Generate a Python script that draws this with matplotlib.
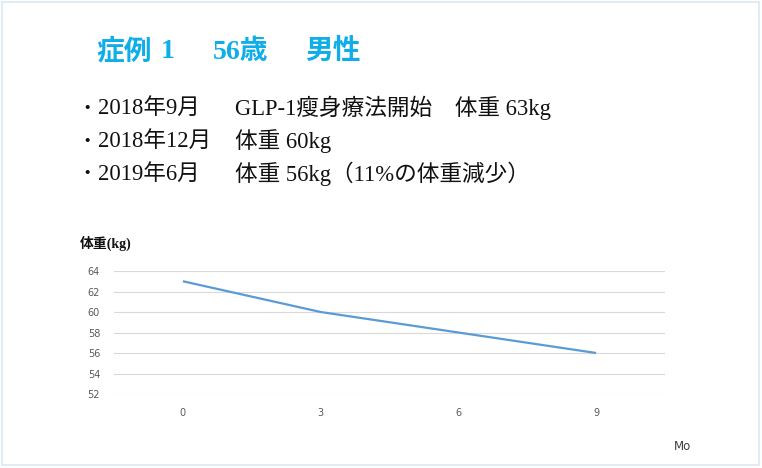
import matplotlib
matplotlib.use('Agg')
import matplotlib.pyplot as plt
from matplotlib.patches import Rectangle

plt.rcParams['font.family'] = ['Liberation Serif', 'Noto Sans CJK JP', 'DejaVu Sans']

# data
months = [0, 3, 6, 9]
weight = [63, 60, 58, 56]
yticks = [52, 54, 56, 58, 60, 62, 64]

title_parts = ["症例", "1", "56歳", "男性"]
title_x = [96, 161, 213, 305]
bullet_dates = ["2018年9月", "2018年12月", "2019年6月"]
bullet_notes = ["GLP-1瘦身療法開始　体重 63kg", "体重 60kg", "体重 56kg（11%の体重減少）"]
bullet_y = [108, 141, 174]

W, H = 762, 468
fig = plt.figure(figsize=(W / 100, H / 100), dpi=100)

def fx(px):
    return px / W

def fy(py):
    return 1 - py / H

# slide border
fig.patches.append(Rectangle((fx(2), fy(465)), fx(757), fy(2) - fy(465),
                             transform=fig.transFigure, fill=False,
                             edgecolor='#dbe8f5', linewidth=1.2))

# title
for part, x in zip(title_parts, title_x):
    fig.text(fx(x), fy(52), part, fontsize=20, fontweight='bold', color='#10aee8',
             ha='left', va='center')

# bullets
for d, n, y in zip(bullet_dates, bullet_notes, bullet_y):
    fig.text(fx(77), fy(y), "・", fontsize=14, color='#111111', ha='left', va='center',
             family=['Noto Sans CJK JP'])
    fig.text(fx(98), fy(y), d, fontsize=16.3, color='#111111', ha='left', va='center')
    fig.text(fx(235), fy(y), n, fontsize=16.3, color='#111111', ha='left', va='center')

# chart
ax = fig.add_axes([fx(114), fy(394), fx(665) - fx(114), fy(271) - fy(394)])
ax.plot(months, weight, color='#5b9bd5', linewidth=1.6, solid_capstyle='butt')
ax.set_xlim(-1.5, 10.5)
ax.set_ylim(52, 64)
ax.set_xticks(months)
ax.set_yticks(yticks)
ax.grid(axis='y', color='#d9d9d9', linewidth=0.8)
ax.set_axisbelow(True)
for s in ax.spines.values():
    s.set_visible(False)
ax.tick_params(length=0, labelsize=7, labelcolor='#595959', pad=10)
for lab in ax.get_xticklabels() + ax.get_yticklabels():
    lab.set_family('DejaVu Sans')

fig.text(fx(80), fy(243), "体重(kg)", fontsize=10, fontweight='bold', color='#111111',
         ha='left', va='center')
fig.text(fx(674), fy(446), "Mo", fontsize=8.5, color='#404040', ha='left', va='center',
         family='DejaVu Sans')

fig.savefig('out.png', dpi=100)
